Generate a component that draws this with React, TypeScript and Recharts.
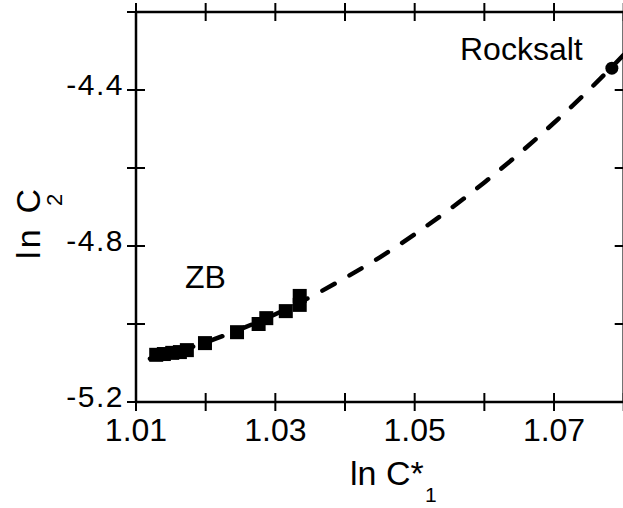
import React from 'react';
import { ComposedChart, XAxis, YAxis, Line, Scatter } from 'recharts';

const FONT = '"Liberation Sans", Arial, Helvetica, sans-serif';

const xTicks = [1.01, 1.02, 1.03, 1.04, 1.05, 1.06, 1.07, 1.08];
const xTickLabels = ['1.01', '', '1.03', '', '1.05', '', '1.07', ''];
const yTicks = [-5.2, -5.0, -4.8, -4.6, -4.4, -4.2];
const yTickLabels = ['-5.2', '', '-4.8', '', '-4.4', ''];

// ZB data points (squares)
const zbX = [1.0129, 1.014, 1.0152, 1.0163, 1.0173, 1.0199, 1.0245, 1.0276, 1.0287, 1.0315, 1.0335, 1.0335];
const zbY = [-5.079, -5.077, -5.074, -5.072, -5.067, -5.049, -5.021, -5.0, -4.985, -4.967, -4.951, -4.928];

// dashed fit curve
const fitX = [1.012, 1.015, 1.02, 1.025, 1.03, 1.035, 1.04, 1.045, 1.05, 1.055, 1.06, 1.065, 1.07, 1.075, 1.08];
const fitY = [-5.089, -5.075, -5.047, -5.013, -4.975, -4.931, -4.882, -4.829, -4.77, -4.706, -4.637, -4.563, -4.484, -4.4, -4.31];

// Rocksalt point
const rockX = [1.0783];
const rockY = [-4.344];

const zbData = zbX.map((x, i) => ({ x, y: zbY[i] }));
const fitData = fitX.map((x, i) => ({ x, y: fitY[i] }));
const rockData = rockX.map((x, i) => ({ x, y: rockY[i] }));

const findIdx = (arr: number[], v: number) => arr.findIndex((t) => Math.abs(t - v) < 1e-9);

const BottomTick = (p: any) => {
  const { x, y, payload } = p;
  const i = findIdx(xTicks, payload.value);
  const label = i >= 0 ? xTickLabels[i] : '';
  return (
    <g>
      <line x1={x} x2={x} y1={y - 9} y2={y + 9} stroke="#000" strokeWidth={2} />
      {label ? (
        <text x={x} y={y + 39} textAnchor="middle" fontSize={32} fontFamily={FONT} fill="#000">
          {label}
        </text>
      ) : null}
    </g>
  );
};

const TopTick = (p: any) => {
  const { x, y } = p;
  return <line x1={x} x2={x} y1={y - 9} y2={y + 9} stroke="#000" strokeWidth={2} />;
};

const LeftTick = (p: any) => {
  const { x, y, payload } = p;
  const i = findIdx(yTicks, payload.value);
  const label = i >= 0 ? yTickLabels[i] : '';
  return (
    <g>
      <line x1={x - 9} x2={x + 9} y1={y} y2={y} stroke="#000" strokeWidth={2} />
      {label ? (
        <text x={x - 12} y={y + 5} textAnchor="end" fontSize={30} letterSpacing={1.5} fontFamily={FONT} fill="#000">
          {label}
        </text>
      ) : null}
    </g>
  );
};

const RightTick = (p: any) => {
  const { x, y } = p;
  return <line x1={x - 9} x2={x + 9} y1={y} y2={y} stroke="#000" strokeWidth={2} />;
};

const SquareShape = (p: any) => (
  <rect x={p.cx - 7} y={p.cy - 7} width={14} height={14} fill="#000" />
);

const CircleShape = (p: any) => <circle cx={p.cx} cy={p.cy} r={6.5} fill="#000" />;

const axisLine = { stroke: '#000', strokeWidth: 2.5 };

export default function App() {
  return (
    <div style={{ position: 'absolute', left: 0, top: 0, width: 623, height: 508, overflow: 'hidden', background: '#fff' }}>
      <ComposedChart width={640} height={508} margin={{ top: 0, right: 0, bottom: 0, left: 0 }}>
        <XAxis
          xAxisId="b"
          orientation="bottom"
          dataKey="x"
          type="number"
          domain={[1.01, 1.08]}
          ticks={xTicks}
          interval={0}
          height={106}
          tickLine={false}
          tickSize={0}
          tickMargin={0}
          axisLine={axisLine}
          tick={BottomTick}
          allowDataOverflow
        />
        <XAxis
          xAxisId="t"
          orientation="top"
          dataKey="x"
          type="number"
          domain={[1.01, 1.08]}
          ticks={xTicks}
          interval={0}
          height={12}
          tickLine={false}
          tickSize={0}
          tickMargin={0}
          axisLine={axisLine}
          tick={TopTick}
          allowDataOverflow
        />
        <YAxis
          yAxisId="l"
          orientation="left"
          dataKey="y"
          type="number"
          domain={[-5.2, -4.2]}
          ticks={yTicks}
          interval={0}
          width={136}
          tickLine={false}
          tickSize={0}
          tickMargin={0}
          axisLine={axisLine}
          tick={LeftTick}
          allowDataOverflow
        />
        <YAxis
          yAxisId="r"
          orientation="right"
          dataKey="y"
          type="number"
          domain={[-5.2, -4.2]}
          ticks={yTicks}
          interval={0}
          width={16.3}
          tickLine={false}
          tickSize={0}
          tickMargin={0}
          axisLine={axisLine}
          tick={RightTick}
          allowDataOverflow
        />
        <Line
          xAxisId="b"
          yAxisId="l"
          data={fitData}
          dataKey="y"
          type="monotone"
          stroke="#000"
          strokeWidth={4.5}
          strokeDasharray="14 17"
          strokeLinecap="round"
          dot={false}
          activeDot={false}
          isAnimationActive={false}
        />
        <Scatter xAxisId="b" yAxisId="l" data={zbData} dataKey="y" shape={SquareShape} isAnimationActive={false} />
        <Scatter xAxisId="t" yAxisId="r" data={rockData} dataKey="y" shape={CircleShape} isAnimationActive={false} />
      </ComposedChart>
      <svg
        width={623}
        height={508}
        style={{ position: 'absolute', left: 0, top: 0, pointerEvents: 'none' }}
      >
        <text x={350} y={485} fontSize={34} fontFamily={FONT} fill="#000">ln C*</text>
        <text x={425} y={502} fontSize={21} fontFamily={FONT} fill="#000">1</text>
        <g transform="translate(40,259) rotate(-90)">
          <text x={0} y={0} fontSize={34} fontFamily={FONT} fill="#000" textLength={70} lengthAdjust="spacing">ln C</text>
          <text x={53} y={22} fontSize={22} fontFamily={FONT} fill="#000">2</text>
        </g>
        <text x={185} y={288} fontSize={32} fontFamily={FONT} fill="#000">ZB</text>
        <text x={460} y={60} fontSize={32} fontFamily={FONT} fill="#000">Rocksalt</text>
      </svg>
    </div>
  );
}
